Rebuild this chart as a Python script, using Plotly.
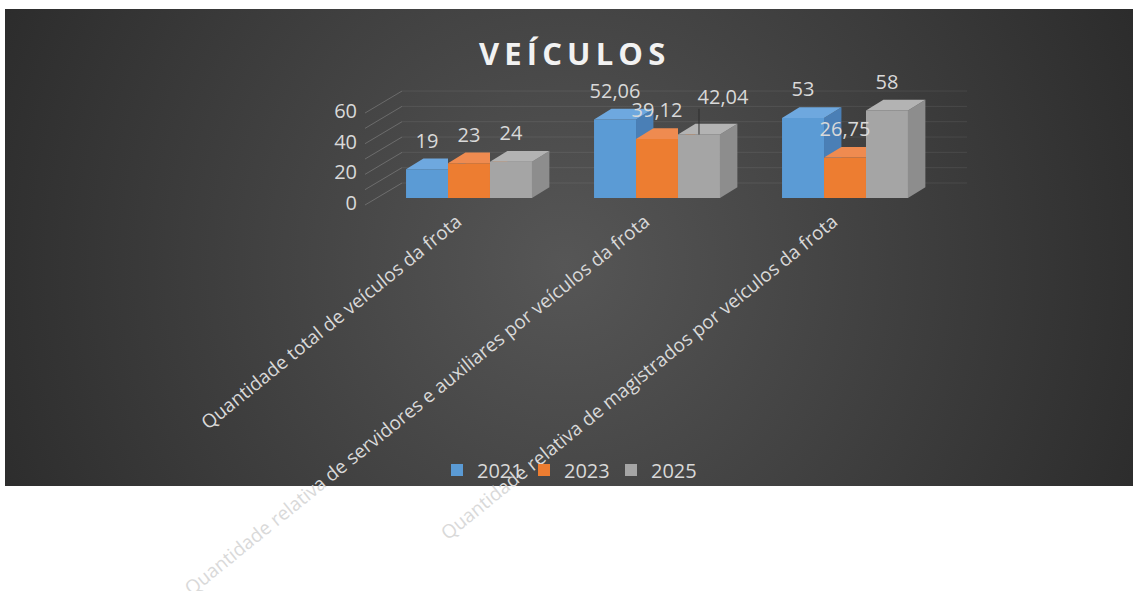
import base64
import plotly.graph_objects as go

# ---------------- data ----------------
categories = [
    "Quantidade total de veículos da frota",
    "Quantidade relativa de servidores e auxiliares por veículos da frota",
    "Quantidade relativa de magistrados por veículos da frota",
]
years = ["2021", "2023", "2025"]
values_2021 = [19, 52.06, 53]
values_2023 = [23, 39.12, 26.75]
values_2025 = [24, 42.04, 58]
y_tick_values = [0, 20, 40, 60]
grid_values = [0, 10, 20, 30, 40, 50, 60]
title_text = "VEÍCULOS"

series = [values_2021, values_2023, values_2025]

# ---------------- style / geometry ----------------
W, H = 1133, 591
L, RP, T, BP = 300, 1000, 70, 206          # plot area in pixels
X0_PX, Y0_PX = 469, 198                     # pixel of category 0 / value 0
PX_X, PX_Y = 188.0, 1.51                    # pixels per unit
XR = [(L - X0_PX) / PX_X, (RP - X0_PX) / PX_X]
YR = [(Y0_PX - BP) / PX_Y, (Y0_PX - T) / PX_Y]

BARGAP = 0.33
BW = (1 - BARGAP) / 3
DDX = 17.4 / PX_X            # bar depth (x units)
DDY = 10.7 / PX_Y            # bar depth (y units)
LABEL_GAP = 16 / PX_Y

WALL_SCALE = 1.015
WALL_FX = (365 - X0_PX) / PX_X
WALL_FDY = (Y0_PX - 205) / PX_Y
WALL_BX = (402 - X0_PX) / PX_X
WALL_BDY = (Y0_PX - 183) / PX_Y
WALL_RX = (967 - X0_PX) / PX_X

FRONT = ["#5b9bd5", "#ed7d31", "#a5a5a5"]
TOP = ["#6ea8df", "#ef8b50", "#b3b3b3"]
SIDE = ["#4a7fb6", "#c8651f", "#8d8d8d"]
TXT = "#d9d9d9"
FONT = "Open Sans, Segoe UI, DejaVu Sans, sans-serif"

# label adjustments (x px, y px) for manually moved labels
LABEL_MOVE = {(1, 2): (24, 9)}


def px_x(p):
    return (p - L) / (RP - L)


def px_y(p):
    return (BP - p) / (BP - T)


def fmt(v):
    if float(v).is_integer():
        return str(int(v))
    return f"{v:.2f}".replace(".", ",")


def clip(poly, inside, inter):
    out = []
    n = len(poly)
    for i in range(n):
        cur, prev = poly[i], poly[i - 1]
        if inside(cur):
            if not inside(prev):
                out.append(inter(prev, cur))
            out.append(cur)
        elif inside(prev):
            out.append(inter(prev, cur))
    return out


def clip_y_ge(poly, c):
    def inter(a, b):
        t = (c - a[1]) / (b[1] - a[1])
        return (a[0] + t * (b[0] - a[0]), c)
    return clip(poly, lambda p: p[1] >= c, inter)


def clip_x_le(poly, c):
    def inter(a, b):
        t = (c - a[0]) / (b[0] - a[0])
        return (c, a[1] + t * (b[1] - a[1]))
    return clip(poly, lambda p: p[0] <= c, inter)


fig = go.Figure()

# front faces as real bars
for k, (yr, vals) in enumerate(zip(years, series)):
    fig.add_trace(go.Bar(
        x=list(range(len(categories))), y=vals, name=yr,
        marker=dict(color=FRONT[k], line=dict(width=0)),
    ))

# side and top faces (painter's order, left to right)
for c in range(len(categories)):
    for k in range(3):
        v = series[k][c]
        xl = c - (1 - BARGAP) / 2 + k * BW
        xr = xl + BW
        nxt = series[k + 1][c] if k < 2 else None
        side = [(xr, 0), (xr + DDX, DDY), (xr + DDX, v + DDY), (xr, v)]
        if nxt is not None:
            side = clip_y_ge(side, nxt) if nxt < v + DDY else []
        if side:
            fig.add_trace(go.Scatter(
                x=[p[0] for p in side] + [side[0][0]],
                y=[p[1] for p in side] + [side[0][1]],
                mode="lines", fill="toself", fillcolor=SIDE[k],
                line=dict(width=0, color=SIDE[k]), hoverinfo="skip", showlegend=False))
        top = [(xl, v), (xr, v), (xr + DDX, v + DDY), (xl + DDX, v + DDY)]
        if nxt is not None and nxt > v:
            top = clip_x_le(top, xr)
        fig.add_trace(go.Scatter(
            x=[p[0] for p in top] + [top[0][0]],
            y=[p[1] for p in top] + [top[0][1]],
            mode="lines", fill="toself", fillcolor=TOP[k],
            line=dict(width=0, color=TOP[k]), hoverinfo="skip", showlegend=False))

# data labels
lx, ly, lt = [], [], []
for c in range(len(categories)):
    for k in range(3):
        v = series[k][c]
        xc = c - (1 - BARGAP) / 2 + (k + 0.5) * BW
        mx, my = LABEL_MOVE.get((c, k), (0, 0))
        x_lab = xc + mx / PX_X
        y_lab = v + DDY + LABEL_GAP + my / PX_Y
        lx.append(x_lab)
        ly.append(y_lab)
        lt.append(fmt(v))
        if (c, k) in LABEL_MOVE:
            fig.add_trace(go.Scatter(
                x=[xc, xc], y=[v, y_lab - 10 / PX_Y], mode="lines",
                line=dict(color="#2e2e2e", width=1), hoverinfo="skip", showlegend=False))
fig.add_trace(go.Scatter(
    x=lx, y=ly, text=lt, mode="text", textposition="middle center",
    textfont=dict(family=FONT, size=20, color=TXT),
    hoverinfo="skip", showlegend=False, cliponaxis=False))

# value-axis tick labels on the left wall
fig.add_trace(go.Scatter(
    x=[WALL_FX - 8 / PX_X] * len(y_tick_values),
    y=[v * WALL_SCALE + WALL_FDY for v in y_tick_values],
    text=[str(v) for v in y_tick_values], mode="text", textposition="middle left",
    textfont=dict(family=FONT, size=20, color=TXT),
    hoverinfo="skip", showlegend=False, cliponaxis=False))

# walls gridlines
shapes = []
for v in grid_values:
    yb = v * WALL_SCALE + WALL_BDY
    yf = v * WALL_SCALE + WALL_FDY
    shapes.append(dict(type="line", xref="x", yref="y", layer="below",
                       x0=WALL_FX, y0=yf, x1=WALL_BX, y1=yb,
                       line=dict(color="rgba(255,255,255,0.2)", width=1)))
    shapes.append(dict(type="line", xref="x", yref="y", layer="below",
                       x0=WALL_BX, y0=yb, x1=WALL_RX, y1=yb,
                       line=dict(color="rgba(255,255,255,0.08)", width=1)))

# background: radial gradient chart area
bg_l, bg_t, bg_r, bg_b = 5, 9, 1133, 486
bw, bh = bg_r - bg_l, bg_b - bg_t
svg = (
    f"<svg xmlns='http://www.w3.org/2000/svg' width='{bw}' height='{bh}' "
    f"viewBox='0 0 {bw} {bh}' preserveAspectRatio='none'>"
    "<defs><radialGradient id='g' gradientUnits='userSpaceOnUse' "
    f"cx='{565 - bg_l}' cy='{265 - bg_t}' r='650'>"
    "<stop offset='0' stop-color='#565656'/>"
    "<stop offset='1' stop-color='#2a2a2a'/>"
    "</radialGradient></defs>"
    f"<rect x='0' y='0' width='{bw}' height='{bh}' fill='url(#g)'/></svg>"
)
src = "data:image/svg+xml;base64," + base64.b64encode(svg.encode()).decode()

fig.update_layout(
    width=W, height=H,
    margin=dict(l=L, r=W - RP, t=T, b=H - BP, autoexpand=False),
    paper_bgcolor="white", plot_bgcolor="rgba(0,0,0,0)",
    barmode="group", bargap=BARGAP, bargroupgap=0,
    showlegend=True,
    legend=dict(orientation="h", x=px_x(437), xanchor="left",
                y=px_y(470), yanchor="middle",
                entrywidth=42, entrywidthmode="pixels",
                font=dict(family=FONT, size=20, color=TXT),
                bgcolor="rgba(0,0,0,0)", traceorder="normal"),
    xaxis=dict(range=XR, tickvals=list(range(len(categories))), ticktext=categories,
               tickangle=-39, tickfont=dict(family=FONT, size=19, color=TXT),
               ticklabelshift=-12,
               showgrid=False, zeroline=False, showline=False, ticks="",
               automargin=False, fixedrange=True),
    yaxis=dict(range=YR, showticklabels=False, showgrid=False, zeroline=False,
               showline=False, ticks="", fixedrange=True),
    shapes=shapes,
    images=[dict(source=src, xref="paper", yref="paper",
                 x=px_x(bg_l), y=px_y(bg_t),
                 sizex=bw / (RP - L), sizey=bh / (BP - T),
                 xanchor="left", yanchor="top", sizing="stretch", layer="below")],
    annotations=[dict(text="<b>" + "\u2009".join(title_text) + "</b>",
                      xref="paper", yref="paper", x=px_x(571.7), y=px_y(53),
                      xanchor="center", yanchor="middle", showarrow=False,
                      font=dict(family=FONT, size=31, color="#f2f2f2"))],
)

fig.write_html(
    "out.html",
    config={"displayModeBar": False},
    post_script="document.body.style.margin='0';document.body.style.padding='0';",
)
